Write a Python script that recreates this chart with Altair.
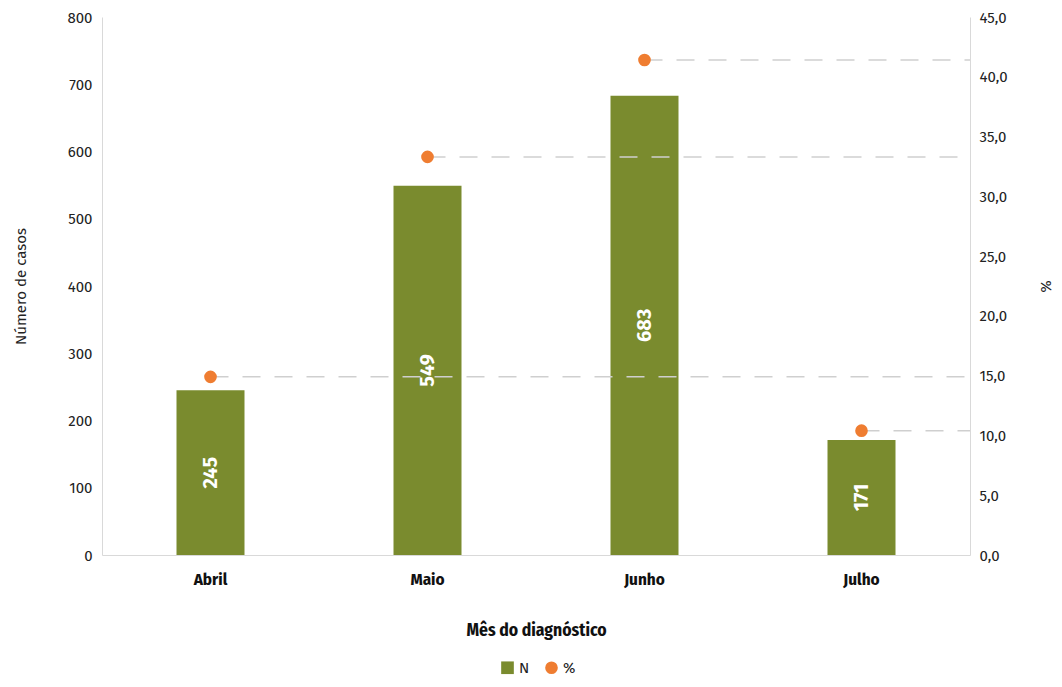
import altair as alt
import pandas as pd

meses = ["Abril", "Maio", "Junho", "Julho"]
casos = [245, 549, 683, 171]
percentuais = [14.9, 33.3, 41.4, 10.4]
eixo_esq = [0, 100, 200, 300, 400, 500, 600, 700, 800]
eixo_dir = [0, 5, 10, 15, 20, 25, 30, 35, 40, 45]

VERDE = "#7A8B2E"
LARANJA = "#EF7D31"
FONT = "Fira Sans, Noto Sans, sans-serif"
FONT_COND = "Fira Sans Condensed, Liberation Sans Narrow, Roboto, sans-serif"

df = pd.DataFrame({"mes": meses, "n": casos, "pct": percentuais})

W, H = 868, 538

base = alt.Chart(df).encode(
    x=alt.X("mes:N", sort=meses, scale=alt.Scale(paddingInner=0, paddingOuter=0),
            axis=alt.Axis(title="Mês do diagnóstico", labelAngle=0, ticks=False,
                          domainColor="#d9d9d9", labelPadding=16, labelFontSize=17,
                          labelFontWeight="bold", labelFont=FONT_COND, labelColor="#111",
                          titleFont=FONT_COND, titleFontSize=17.5, titleFontWeight="bold",
                          titleColor="#111", titleY=75, titleBaseline="middle"))
)

axis_esq = alt.Axis(values=eixo_esq, title="Número de casos", orient="left", grid=False,
                    ticks=False, domainColor="#d9d9d9", labelPadding=10,
                    labelFontSize=15, labelColor="#222", labelFont=FONT,
                    titleFont=FONT, titleFontSize=15, titleFontWeight="normal",
                    titleColor="#222", titleX=-82, titleY=H / 2, titleBaseline="middle")

axis_dir = alt.Axis(values=eixo_dir, title="%", orient="right", grid=False, ticks=False,
                    domainColor="#d9d9d9", labelPadding=9, labelFontSize=15,
                    labelColor="#222", labelFont=FONT,
                    labelExpr="replace(format(datum.value, '.1f'), '.', ',')",
                    titleFont=FONT, titleFontSize=15, titleFontWeight="normal",
                    titleColor="#222", titleX=75, titleY=H / 2, titleAngle=90,
                    titleBaseline="middle")

bars = base.mark_bar(size=68, color=VERDE).encode(
    y=alt.Y("n:Q", scale=alt.Scale(domain=[0, 800]), axis=axis_esq)
)

labels = base.transform_calculate(mid="datum.n / 2").mark_text(
    angle=270, color="white", fontWeight="bold", fontSize=20, font=FONT
).encode(
    y=alt.Y("mid:Q", scale=alt.Scale(domain=[0, 800]), axis=axis_esq),
    text=alt.Text("n:Q"),
)

rules = base.mark_rule(color="#cfcfcf", strokeWidth=1.5, strokeDash=[18, 14]).encode(
    x2=alt.value(W),
    y=alt.Y("pct:Q", scale=alt.Scale(domain=[0, 45]), axis=axis_dir),
)

leg = alt.Legend(title=None, orient="none", legendX=398, legendY=643,
                 direction="horizontal", symbolSize=160,
                 labelFontSize=15, labelFont=FONT, labelColor="#222",
                 columnPadding=14, labelOffset=4)

points = base.transform_calculate(serie="'%'").mark_point(
    filled=True, size=160, opacity=1
).encode(
    y=alt.Y("pct:Q", scale=alt.Scale(domain=[0, 45]), axis=axis_dir),
    color=alt.Color("serie:N", scale=alt.Scale(domain=["N", "%"], range=[VERDE, LARANJA]),
                    legend=leg),
    shape=alt.Shape("serie:N", scale=alt.Scale(domain=["N", "%"], range=["square", "circle"]),
                    legend=leg),
)

left = alt.layer(bars, labels)
right = alt.layer(rules, points)

chart = alt.layer(left, right).resolve_scale(y="independent").properties(
    width=W, height=H,
    autosize=alt.AutoSizeParams(type="none"),
    padding={"left": 94, "top": 9, "right": 84, "bottom": 124},
).configure_view(stroke=None)

chart.save("out.html", embed_options={"renderer": "svg", "actions": False})
